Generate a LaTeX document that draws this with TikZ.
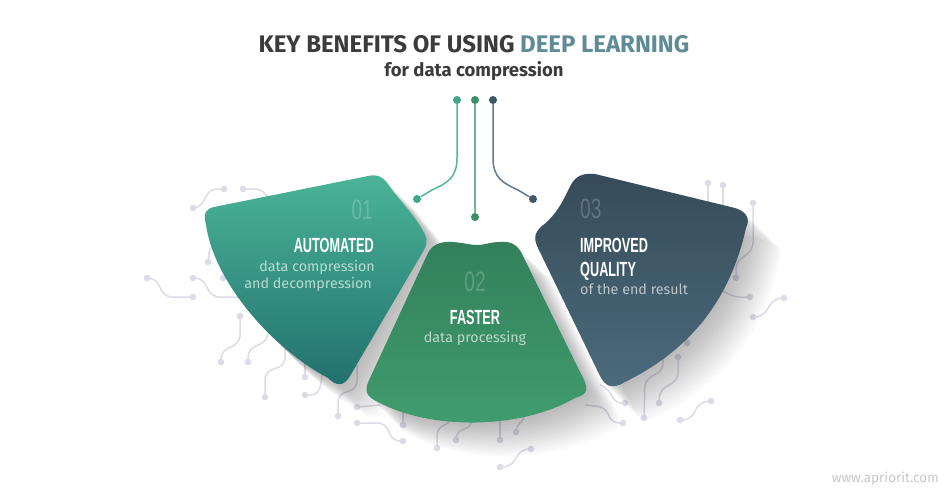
\documentclass[tikz,border=0pt]{standalone}
\usepackage{fontspec}
\setmainfont{Fira Sans}
\newfontfamily\condf[FakeStretch=0.62]{Liberation Sans}
\newfontfamily\numf[FakeStretch=0.68]{Liberation Sans}
\definecolor{ttl}{HTML}{3B3B3B}
\definecolor{ttlb}{HTML}{5E8B95}
\definecolor{trc}{HTML}{DCDCE8}
\definecolor{cA}{HTML}{3FA88B}
\definecolor{cAl}{HTML}{58B49A}
\definecolor{cB}{HTML}{3A9068}
\definecolor{cBl}{HTML}{6DB592}
\definecolor{cC}{HTML}{3E5868}
\definecolor{cCl}{HTML}{62798A}
\definecolor{lTop}{HTML}{4AB498}
\definecolor{lBot}{HTML}{22706C}
\definecolor{mTop}{HTML}{33805A}
\definecolor{mBot}{HTML}{409D6F}
\definecolor{rTop}{HTML}{364B57}
\definecolor{rBot}{HTML}{4B6B7D}
\definecolor{wm}{HTML}{C8C8C8}
\newcommand\trdot[2]{\fill[trc] (#1,#2) circle (3.3pt);}
\tikzset{
  trace/.style={draw=trc, line width=1.5pt, rounded corners=7pt},
  cdot/.style={circle, inner sep=0pt, minimum size=8pt},
  conn/.style={line width=1.5pt},
  lshape/.style={insert path={(214,207) -- (368,176) .. controls (378,174) and (383,177) .. (388,184)
     .. controls (395,195) and (410,210) .. (420,226) .. controls (428,238) and (428,242) .. (424,250)
     -- (350,376) .. controls (344,387) and (336,386) .. (328,378)
     .. controls (275,350) and (215,285) .. (206,225) .. controls (203,212) and (206,209) .. (214,207) -- cycle}},
  mshape/.style={insert path={(453,242) .. controls (465,243) and (470,245) .. (477,245)
     .. controls (485,245) and (490,242) .. (500,242) .. controls (510,241) and (516,244) .. (521,252)
     -- (580,372) .. controls (590,390) and (588,394) .. (575,398)
     .. controls (520,430) and (430,430) .. (378,402) .. controls (365,396) and (364,390) .. (370,378)
     -- (427,255) .. controls (431,245) and (440,241) .. (453,242) -- cycle}},
  rshape/.style={insert path={(595,174) -- (735,208) .. controls (748,212) and (750,220) .. (746,228)
     .. controls (730,300) and (690,350) .. (625,382) .. controls (612,390) and (605,386) .. (600,376)
     -- (538,248) .. controls (533,238) and (535,232) .. (542,226)
     .. controls (560,212) and (565,195) .. (572,183) .. controls (577,175) and (585,173) .. (595,174) -- cycle}},
  bigt/.style={inner sep=0pt, text=white, font=\condf\bfseries\fontsize{20.5}{22}\selectfont},
  numt/.style={inner sep=0pt, text=white, text opacity=0.2, font=\numf\fontsize{28}{30}\selectfont},
  smt/.style={inner sep=0pt, text=white, text opacity=0.65, font=\fontsize{14.3}{16}\selectfont},
}
\begin{document}
\begin{tikzpicture}[x=1pt,y=-1pt]
\useasboundingbox (0,0) rectangle (950,496);
\fill[white] (0,0) rectangle (950,496);
% ---------- circuit traces ----------
\draw[trace] (193,208) -- (200,208) -- (210,189) -- (224,189); \trdot{193}{208}\trdot{224}{189}
\draw[trace] (243,189) -- (262,189) -- (272,205); \trdot{243}{189}
\draw[trace] (208,262) -- (210,246) -- (228,240); \trdot{208}{262}
\draw[trace] (147,278) -- (155,278) -- (165,297) -- (193,297); \trdot{147}{278}\trdot{193}{297}
\draw[trace] (193,278) -- (202,278) -- (212,297) -- (245,297); \trdot{193}{278}
\draw[trace] (223,278) -- (240,278); \trdot{223}{278}
\draw[trace] (240,316) -- (240,342) -- (221,352) -- (221,362); \trdot{240}{316}\trdot{221}{362}
\draw[trace] (248,362) -- (248,350) -- (268,340) -- (268,320); \trdot{248}{362}
\draw[trace] (265,397) -- (265,372) -- (285,365) -- (285,340); \trdot{265}{397}
\draw[trace] (305,377) -- (305,355); \trdot{305}{377}
\draw[trace] (305,395) -- (318,395) -- (322,380) -- (322,360); \trdot{305}{395}
\draw[trace] (338,416) -- (338,395) -- (357,388) -- (357,365); \trdot{338}{416}
\draw[trace] (357,407) -- (380,405); \trdot{357}{407}
\draw[trace] (357,423) -- (385,423) -- (393,441) -- (403,441); \trdot{357}{423}\trdot{403}{441}
\draw[trace] (403,425) -- (403,405); \trdot{403}{425}
\draw[trace] (437,448) -- (437,428) -- (450,423) -- (455,410); \trdot{437}{448}
\draw[trace] (456,440) -- (456,432) -- (472,426) -- (472,410); \trdot{456}{440}
\draw[trace] (500,440) -- (500,410); \trdot{500}{440}
\draw[trace] (516,432) -- (516,425) -- (525,420) -- (525,410); \trdot{516}{432}
\draw[trace] (500,467) -- (510,467) -- (522,449) -- (531,449); \trdot{500}{467}\trdot{531}{449}
\draw[trace] (708,183) -- (708,205); \trdot{708}{183}
\draw[trace] (723,185) -- (723,210); \trdot{723}{185}
\draw[trace] (753,203) -- (753,250) -- (736,262) -- (736,278); \trdot{753}{203}\trdot{736}{278}
\draw[trace] (718,270) -- (718,288) -- (733,297) -- (750,297); \trdot{750}{297}
\draw[trace] (753,317) -- (762,317) -- (775,298) -- (784,298); \trdot{753}{317}\trdot{784}{298}
\draw[trace] (687,343) -- (687,330) -- (705,322) -- (705,300); \trdot{687}{343}
\draw[trace] (678,357) -- (678,380) -- (660,390) -- (659,403); \trdot{678}{357}\trdot{659}{403}
\draw[trace] (663,356) -- (663,370) -- (645,380) -- (644,418); \trdot{663}{356}\trdot{644}{418}
\draw[trace] (625,403) -- (615,403) -- (608,388) -- (600,385); \trdot{625}{403}
\draw[trace] (623,423) -- (612,423) -- (605,407) -- (585,405); \trdot{623}{423}
\draw[trace] (680,420) -- (690,420) -- (700,402) -- (711,401); \trdot{680}{420}\trdot{711}{401}
% ---------- shadows ----------
\foreach \k in {1,...,14}{
  \begin{scope}[shift={(\k*2.4,\k*2.4)}]
    \fill[black, opacity=0.018, lshape];
    \fill[black, opacity=0.018, mshape];
    \fill[black, opacity=0.018, rshape];
  \end{scope}
}
% ---------- shapes ----------
\shade[top color=lTop, bottom color=lBot, lshape];
\shade[top color=mTop, bottom color=mBot, mshape];
\shade[top color=rTop, bottom color=rBot, rshape];
% ---------- title ----------
\node[inner sep=0pt, anchor=base, font=\bfseries\fontsize{24}{28}\selectfont] (title) at (474,52)
  {\textcolor{ttl}{KEY BENEFITS OF USING} \textcolor{ttlb}{DEEP LEARNING}};
\node[inner sep=0pt, anchor=base, text=ttl, font=\bfseries\fontsize{18.5}{22}\selectfont] (sub) at (474,76) {for data compression};
% ---------- top connectors ----------
\node[cdot, fill=cA] (tA) at (457,100) {};
\node[cdot, fill=cB] (tB) at (475,100) {};
\node[cdot, fill=cC] (tC) at (493,100) {};
\node[cdot, fill=cA] (bA) at (417,199) {};
\node[cdot, fill=cB] (bB) at (475,217) {};
\node[cdot, fill=cC] (bC) at (533,199) {};
\draw[conn, draw=cAl] (tA) -- (457,158) .. controls (457,178) and (447,183) .. (432,190) -- (bA);
\draw[conn, draw=cBl] (tB) -- (bB);
\draw[conn, draw=cCl] (tC) -- (493,158) .. controls (493,178) and (503,183) .. (518,190) -- (bC);
% ---------- texts left ----------
\node[numt, anchor=base east] (n1) at (373,219) {01};
\node[bigt, anchor=base east] (h1) at (374,252) {AUTOMATED};
\node[smt, anchor=base east] (s1a) at (375,271) {data compression};
\node[smt, anchor=base east] (s1b) at (372,288) {and decompression};
% ---------- texts middle ----------
\node[numt, anchor=base] (n2) at (475,291) {02};
\node[bigt, anchor=base] (h2) at (475,324) {FASTER};
\node[smt, anchor=base] (s2) at (475,342) {data processing};
% ---------- texts right ----------
\node[numt, anchor=base west] (n3) at (580,218) {03};
\node[bigt, anchor=base west] (h3a) at (580,252) {IMPROVED};
\node[bigt, anchor=base west] (h3b) at (580,276) {QUALITY};
\node[smt, anchor=base west] (s3) at (580,294) {of the end result};
% ---------- watermark ----------
\node[inner sep=0pt, anchor=base east, text=wm, font=\fontsize{13.5}{15}\selectfont] (wmk) at (939,482) {www.apriorit.com};
\end{tikzpicture}
\end{document}
